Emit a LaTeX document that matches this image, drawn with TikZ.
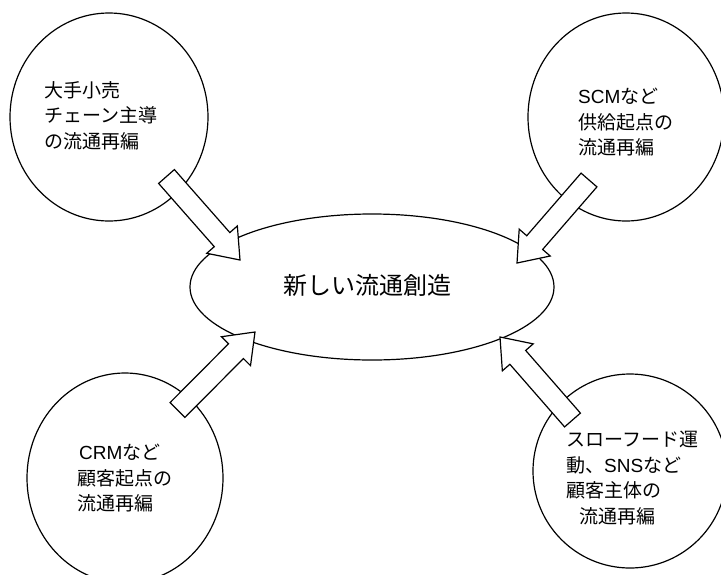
\documentclass[tikz,border=0pt]{standalone}
\usepackage{fontspec}
\setmainfont{Noto Sans CJK JP}
\newfontfamily\latinfont{Liberation Sans}
\usetikzlibrary{calc,shapes.geometric}
\newcommand{\blockarrow}[2]{%
  \filldraw[blockarrowline] let \p1=(#1), \p2=(#2),
      \n1={atan2(\y2-\y1,\x2-\x1)},
      \n2={veclen(\x2-\x1,\y2-\y1)} in
    ($(\p1)+(\n1+90:10.5pt)$) -- ++(\n1:{\n2-27pt}) -- ++(\n1+90:10pt)
    -- (\p2)
    -- ($(\p2)+(\n1+180:27pt)+(\n1-90:20.5pt)$) -- ++(\n1+90:10pt)
    -- ($(\p1)+(\n1-90:10.5pt)$) -- cycle;}
\begin{document}
\begin{tikzpicture}[x=1pt,y=1pt,
  bubble/.style={draw, line width=1.2pt, ellipse, inner sep=0pt, fill=white},
  blockarrowline/.style={draw=black, fill=white, line width=1.2pt, line join=miter},
  bubbletext/.style={anchor=north west, align=left, inner sep=0pt,
    font=\fontsize{19}{25.5}\selectfont},
  centertext/.style={inner sep=0pt, font=\fontsize{24}{28}\selectfont}]
\useasboundingbox (0,0) rectangle (721,-574);
\clip (0,0) rectangle (721,-574);
% bubbles
\node[bubble, minimum width=198pt, minimum height=208pt] (c1) at (109,-117) {};
\node[bubble, minimum width=196pt, minimum height=208pt] (c2) at (626,-117) {};
\node[bubble, minimum width=196pt, minimum height=210pt] (c3) at (125,-478) {};
\node[bubble, minimum width=194pt, minimum height=194pt] (c4) at (630,-471) {};
\node[bubble, minimum width=364pt, minimum height=146pt] (e) at (372,-287) {};
% arrow end points
\coordinate (a1s) at (166.5,-176.5);
\coordinate (a1e) at (240,-260);
\coordinate (a2s) at (589,-180);
\coordinate (a2e) at (517,-263);
\coordinate (a3s) at (177.5,-410);
\coordinate (a3e) at (255,-332);
\coordinate (a4s) at (572.5,-420);
\coordinate (a4e) at (500,-337);
\blockarrow{a1s}{a1e}
\blockarrow{a2s}{a2e}
\blockarrow{a3s}{a3e}
\blockarrow{a4s}{a4e}
% texts
\node[centertext] (et) at (367,-285) {新しい流通創造};
\node[bubbletext] (t1) at (44,-81) {大手小売\\チェーン主導\\の流通再編};
\node[bubbletext] (t2) at (578,-88) {{\latinfont SCM}など\\供給起点の\\流通再編};
\node[bubbletext] (t3) at (77,-444) {\hspace{2pt}{\latinfont CRM}など\\顧客起点の\\流通再編};
\node[bubbletext] (t4) at (566,-431) {スローフード運\\動、{\latinfont SNS}など\\顧客主体の\\\hspace{13pt}流通再編};
\end{tikzpicture}
\end{document}
